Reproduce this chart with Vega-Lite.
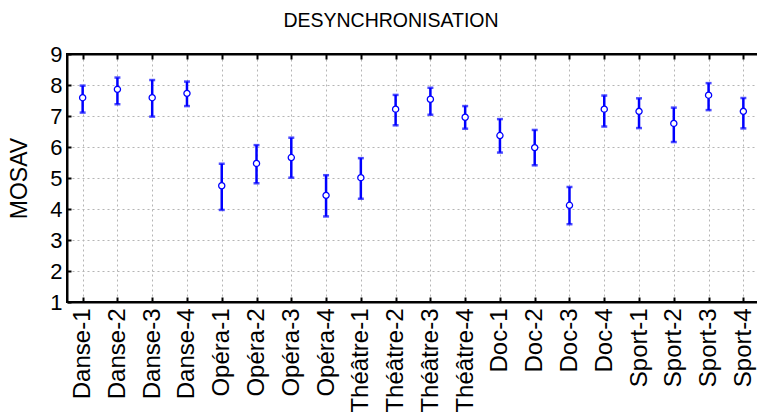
{
  "$schema": "https://vega.github.io/schema/vega-lite/v6.json",
  "autosize": "none",
  "width": 692,
  "height": 248,
  "padding": {"left": 67, "top": 54, "right": 0, "bottom": 112},
  "background": "white",
  "title": {
    "text": "DESYNCHRONISATION",
    "font": "Liberation Sans",
    "fontSize": 19.5,
    "fontWeight": "normal",
    "color": "#000",
    "anchor": "middle",
    "baseline": "alphabetic",
    "offset": -3,
    "dx": -22
  },
  "config": {
    "view": {"stroke": "#000", "strokeWidth": 2},
    "axis": {
      "labelFont": "Liberation Sans",
      "titleFont": "Liberation Sans",
      "labelColor": "#000",
      "titleColor": "#000",
      "domainColor": "#000",
      "domainWidth": 2,
      "tickColor": "#000",
      "tickWidth": 2,
      "gridColor": "#b5b5b5",
      "gridDash": [2, 3],
      "gridWidth": 1,
      "labelOverlap": false
    },
    "axisX": {
      "labelFontSize": 24,
      "labelAngle": -90,
      "labelAlign": "right",
      "labelBaseline": "middle",
      "labelPadding": 11,
      "tickSize": -5
    },
    "axisY": {
      "labelFontSize": 22,
      "labelPadding": 9,
      "tickSize": -4,
      "titleFontSize": 23,
      "titleFontWeight": "normal",
      "titleAngle": -90,
      "titleX": -41,
      "titleY": 124,
      "titleAlign": "center",
      "titleBaseline": "alphabetic"
    }
  },
  "data": {
    "values": [
      {"cond": "Danse-1", "mean": 7.59, "lower": 7.11, "upper": 7.98},
      {"cond": "Danse-2", "mean": 7.86, "lower": 7.38, "upper": 8.24},
      {"cond": "Danse-3", "mean": 7.59, "lower": 6.98, "upper": 8.16},
      {"cond": "Danse-4", "mean": 7.73, "lower": 7.32, "upper": 8.11},
      {"cond": "Opéra-1", "mean": 4.75, "lower": 3.97, "upper": 5.46},
      {"cond": "Opéra-2", "mean": 5.47, "lower": 4.83, "upper": 6.06},
      {"cond": "Opéra-3", "mean": 5.66, "lower": 5.01, "upper": 6.30},
      {"cond": "Opéra-4", "mean": 4.44, "lower": 3.76, "upper": 5.09},
      {"cond": "Théâtre-1", "mean": 5.01, "lower": 4.33, "upper": 5.64},
      {"cond": "Théâtre-2", "mean": 7.22, "lower": 6.70, "upper": 7.68},
      {"cond": "Théâtre-3", "mean": 7.54, "lower": 7.04, "upper": 7.91},
      {"cond": "Théâtre-4", "mean": 6.96, "lower": 6.59, "upper": 7.32},
      {"cond": "Doc-1", "mean": 6.37, "lower": 5.82, "upper": 6.90},
      {"cond": "Doc-2", "mean": 5.98, "lower": 5.41, "upper": 6.55},
      {"cond": "Doc-3", "mean": 4.12, "lower": 3.51, "upper": 4.71},
      {"cond": "Doc-4", "mean": 7.22, "lower": 6.66, "upper": 7.66},
      {"cond": "Sport-1", "mean": 7.15, "lower": 6.61, "upper": 7.57},
      {"cond": "Sport-2", "mean": 6.76, "lower": 6.16, "upper": 7.27},
      {"cond": "Sport-3", "mean": 7.67, "lower": 7.19, "upper": 8.06},
      {"cond": "Sport-4", "mean": 7.15, "lower": 6.60, "upper": 7.58}
    ]
  },
  "layer": [
    {
      "mark": {"type": "rule", "color": "#0000ff", "strokeWidth": 2.5},
      "encoding": {
        "x": {
          "field": "cond", "type": "nominal", "sort": null,
          "scale": {"type": "point", "padding": 0.45},
          "axis": {"orient": "bottom", "title": null, "grid": true}
        },
        "y": {
          "field": "lower", "type": "quantitative",
          "scale": {"domain": [1, 9], "nice": false, "zero": false},
          "axis": {"title": "MOSAV", "values": [1, 2, 3, 4, 5, 6, 7, 8, 9], "grid": true}
        },
        "y2": {"field": "upper"}
      }
    },
    {
      "mark": {"type": "tick", "color": "#0000ff", "thickness": 2.5, "size": 6, "orient": "horizontal"},
      "encoding": {
        "x": {"field": "cond", "type": "nominal", "sort": null, "axis": null},
        "y": {"field": "lower", "type": "quantitative",
          "axis": {"title": "MOSAV", "values": [1, 2, 3, 4, 5, 6, 7, 8, 9], "grid": true}}
      }
    },
    {
      "mark": {"type": "tick", "color": "#0000ff", "thickness": 2.5, "size": 6, "orient": "horizontal"},
      "encoding": {
        "x": {"field": "cond", "type": "nominal", "sort": null, "axis": null},
        "y": {"field": "upper", "type": "quantitative",
          "axis": {"title": "MOSAV", "values": [1, 2, 3, 4, 5, 6, 7, 8, 9], "grid": true}}
      }
    },
    {
      "mark": {"type": "point", "shape": "circle", "filled": true, "fill": "white", "stroke": "#0000ff", "strokeWidth": 1.3, "size": 38, "opacity": 1},
      "encoding": {
        "x": {
          "field": "cond", "type": "nominal", "sort": null,
          "axis": {"orient": "top", "labels": false, "title": null, "grid": false}
        },
        "y": {"field": "mean", "type": "quantitative",
          "axis": {"title": "MOSAV", "values": [1, 2, 3, 4, 5, 6, 7, 8, 9], "grid": true}}
      }
    }
  ],
  "resolve": {"axis": {"x": "independent"}}
}
